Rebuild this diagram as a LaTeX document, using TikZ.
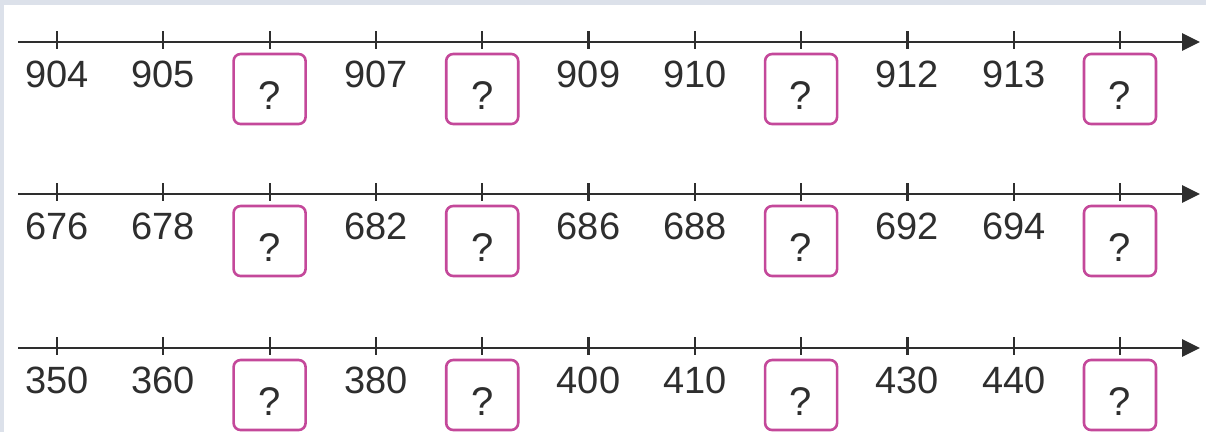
\documentclass[tikz,border=0pt]{standalone}
\usepackage{fontspec}
\setmainfont{Liberation Sans}
\usetikzlibrary{arrows.meta}
\definecolor{framebg}{HTML}{DCE1EA}
\definecolor{ink}{HTML}{2E2E2E}
\definecolor{qpink}{HTML}{C4489A}
\newcommand\numrow[3]{%
  \coordinate (s#1) at (18,#2);
  \coordinate (e#1) at (1200,#2);
  \draw[axisline] (s#1) -- (e#1);
  \foreach \lab/\isq [count=\i from 0] in {#3} {
    \pgfmathsetmacro\xx{57+106.3*\i}
    \coordinate (t#1-\i) at (\xx,#2);
    \draw[tickmark] ([yshift=11pt]t#1-\i) -- ([yshift=-7pt]t#1-\i);
    \ifnum\isq=1
      \node[qbox] (b#1-\i) at ([yshift=-47pt]t#1-\i) {};
      \node[qlabel] (m#1-\i) at ([yshift=-67pt]t#1-\i) {?};
    \else
      \node[numlabel] (n#1-\i) at ([yshift=-45pt]t#1-\i) {\lab};
    \fi
  }
}
\begin{document}
\begin{tikzpicture}[x=1pt,y=-1pt,
  axisline/.style={line width=2.8pt, draw=ink, -{Triangle[length=18pt,width=17pt]}},
  tickmark/.style={line width=2.2pt, draw=ink},
  numlabel/.style={font=\fontsize{38}{40}\selectfont, text=ink, anchor=base, inner sep=0pt},
  qlabel/.style={font=\fontsize{40}{42}\selectfont, text=ink, anchor=base, inner sep=0pt},
  qbox/.style={draw=qpink, line width=2.6pt, rounded corners=7pt, minimum width=72pt, minimum height=70pt, inner sep=0pt, fill=white},
]
\fill[framebg] (0,0) rectangle (1206,432);
\fill[white] (4,5) rectangle (1206,432);
\useasboundingbox (0,0) rectangle (1206,432);
\numrow{1}{42}{904/0,905/0,?/1,907/0,?/1,909/0,910/0,?/1,912/0,913/0,?/1}
\numrow{2}{194}{676/0,678/0,?/1,682/0,?/1,686/0,688/0,?/1,692/0,694/0,?/1}
\numrow{3}{348}{350/0,360/0,?/1,380/0,?/1,400/0,410/0,?/1,430/0,440/0,?/1}
\end{tikzpicture}
\end{document}
